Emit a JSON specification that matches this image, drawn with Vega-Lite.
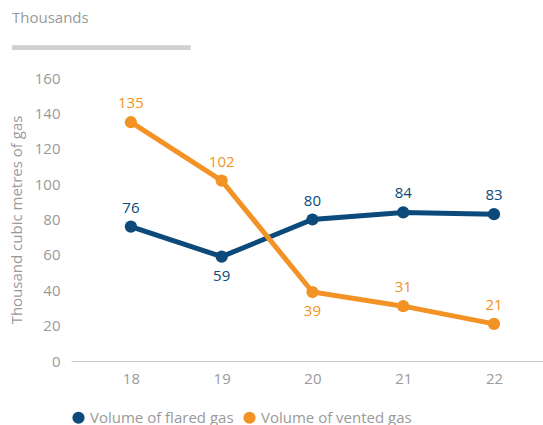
{
  "$schema": "https://vega.github.io/schema/vega-lite/v6.json",
  "width": 472,
  "height": 283,
  "autosize": {"type": "none"},
  "padding": {"left": 71, "top": 78, "right": 0, "bottom": 64},
  "background": "white",
  "title": {
    "text": "Thousands",
    "subtitle": "▄▄▄▄▄▄▄▄▄▄▄▄▄▄▄▄▄▄▄▄▄▄▄▄▄▄▄▄▄",
    "anchor": "start",
    "frame": "group",
    "dx": -59,
    "offset": 21,
    "font": "Open Sans",
    "fontSize": 15,
    "fontWeight": "normal",
    "color": "#9a9a9a",
    "subtitleFont": "DejaVu Sans",
    "subtitleFontSize": 8,
    "subtitleColor": "#d0d0d0",
    "subtitlePadding": 16
  },
  "config": {
    "view": {"stroke": null},
    "font": "Open Sans"
  },
  "data": {
    "values": [
      {"year": 18, "series": "Volume of flared gas", "value": 76},
      {"year": 19, "series": "Volume of flared gas", "value": 59},
      {"year": 20, "series": "Volume of flared gas", "value": 80},
      {"year": 21, "series": "Volume of flared gas", "value": 84},
      {"year": 22, "series": "Volume of flared gas", "value": 83},
      {"year": 18, "series": "Volume of vented gas", "value": 135},
      {"year": 19, "series": "Volume of vented gas", "value": 102},
      {"year": 20, "series": "Volume of vented gas", "value": 39},
      {"year": 21, "series": "Volume of vented gas", "value": 31},
      {"year": 22, "series": "Volume of vented gas", "value": 21}
    ]
  },
  "encoding": {
    "x": {
      "field": "year",
      "type": "quantitative",
      "scale": {"domain": [17.34, 22.54], "nice": false, "zero": false},
      "axis": {
        "values": [18, 19, 20, 21, 22],
        "format": "d",
        "title": null,
        "grid": false,
        "ticks": false,
        "domainColor": "#cccccc",
        "domainWidth": 1,
        "labelColor": "#9a9a9a",
        "labelFontSize": 15,
        "labelPadding": 10
      }
    },
    "y": {
      "field": "value",
      "type": "quantitative",
      "scale": {"domain": [0, 160], "nice": false},
      "axis": {
        "values": [0, 20, 40, 60, 80, 100, 120, 140, 160],
        "title": "Thousand cubic metres of gas",
        "titleColor": "#9a9a9a",
        "titleFontSize": 15,
        "titleFontWeight": "normal",
        "titlePadding": 10,
        "grid": false,
        "ticks": false,
        "domain": false,
        "labelColor": "#9a9a9a",
        "labelFontSize": 15,
        "labelPadding": 11
      }
    },
    "color": {
      "field": "series",
      "type": "nominal",
      "scale": {
        "domain": ["Volume of flared gas", "Volume of vented gas"],
        "range": ["#0b4a7a", "#f39325"]
      },
      "legend": {
        "title": null,
        "orient": "bottom",
        "direction": "horizontal",
        "symbolType": "circle",
        "symbolSize": 150,
        "symbolOpacity": 1,
        "symbolStrokeWidth": 0,
        "labelColor": "#9a9a9a",
        "labelFontSize": 15,
        "columnPadding": 8,
        "labelOffset": 4,
        "offset": 24
      }
    }
  },
  "layer": [
    {
      "mark": {"type": "line", "strokeWidth": 5, "point": {"filled": true, "size": 150, "opacity": 1}}
    },
    {
      "transform": [{"filter": "!((datum.series == 'Volume of flared gas' && datum.year == 19) || (datum.series == 'Volume of vented gas' && datum.year == 20))"}],
      "mark": {"type": "text", "dy": -19, "fontSize": 15},
      "encoding": {"text": {"field": "value", "type": "quantitative"}}
    },
    {
      "transform": [{"filter": "(datum.series == 'Volume of flared gas' && datum.year == 19) || (datum.series == 'Volume of vented gas' && datum.year == 20)"}],
      "mark": {"type": "text", "dy": 19, "fontSize": 15},
      "encoding": {"text": {"field": "value", "type": "quantitative"}}
    }
  ]
}
